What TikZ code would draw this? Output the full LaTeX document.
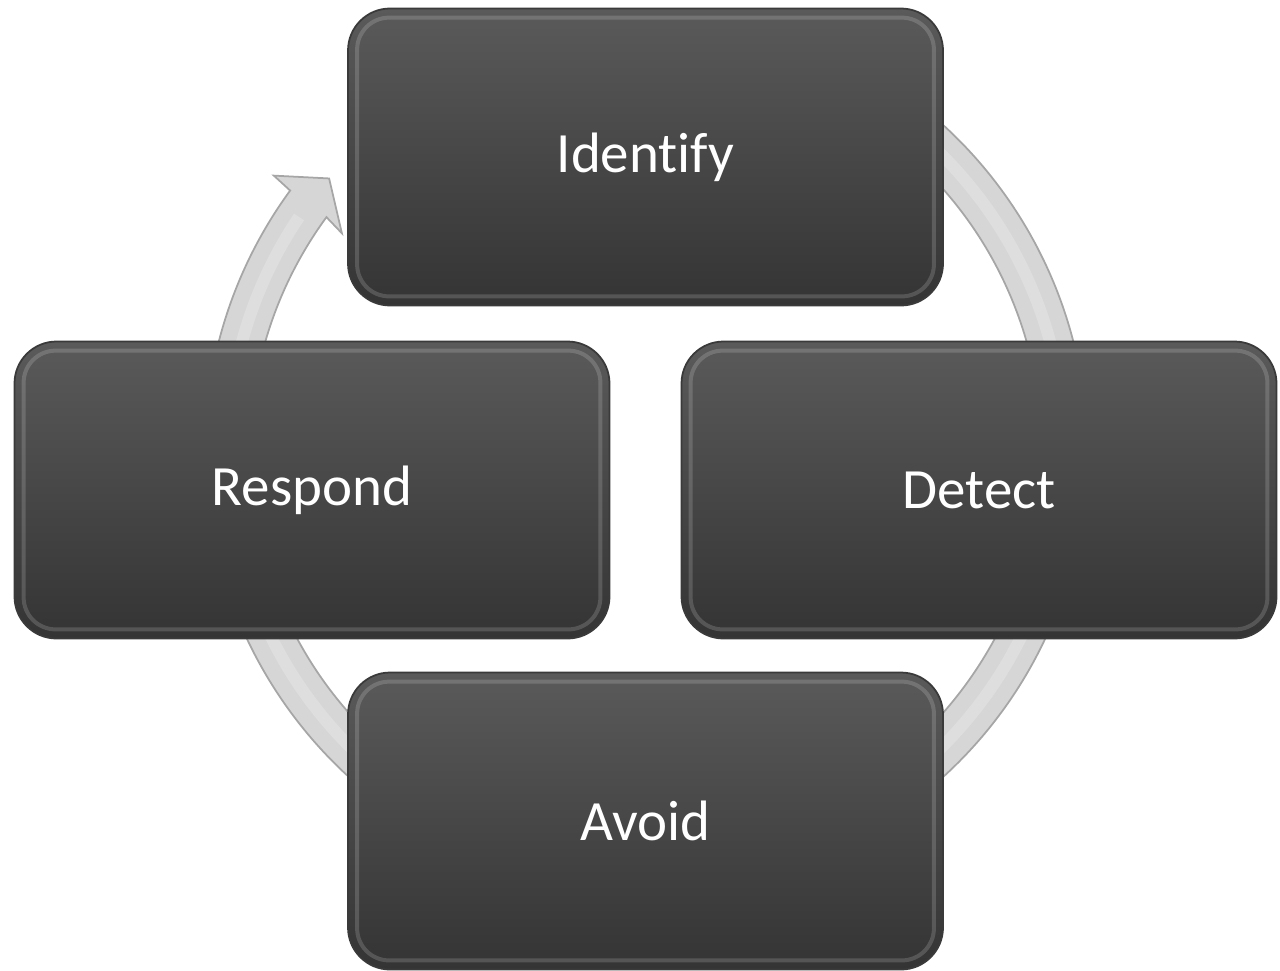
\documentclass[tikz,border=0pt]{standalone}
\usepackage{fontspec}
\setmainfont{Carlito}[RawFeature={-liga;-clig;-dlig}]
\usetikzlibrary{calc}
\definecolor{boxtop}{HTML}{5A5A5A}
\definecolor{boxbot}{HTML}{343434}
\definecolor{boxedge}{HTML}{3A3A3A}
\definecolor{ringfill}{HTML}{D6D6D6}
\definecolor{ringband}{HTML}{DEDEDE}
\definecolor{ringedge}{HTML}{A6A6A6}
\tikzset{
  stage/.style={rectangle, rounded corners=0.42cm, minimum width=5.95cm,
    minimum height=2.97cm, top color=boxtop, bottom color=boxbot,
    draw=boxedge, line width=0.5pt, text=white,
    font=\fontsize{16.2}{19}\selectfont},
  bevel/.style={rounded corners=0.32cm, draw=white, draw opacity=0.16,
    line width=0.04cm},
  ring/.style={fill=ringfill, draw=ringedge, line width=0.5pt}
}
\newcommand{\bevelbox}[1]{%
  \draw[bevel] ([shift={(0.1,-0.1)}]#1.north west) rectangle
               ([shift={(-0.1,0.1)}]#1.south east);}
\begin{document}
\begin{tikzpicture}
\useasboundingbox (0,0) rectangle (12.8,-9.7);
\coordinate (C) at (6.46,-4.51);

% circular arrow running clockwise behind the four stages
\begin{scope}[shift={(C)}]
  \path[ring] (80:4.41) arc[start angle=80, end angle=-216.2, radius=4.41]
     -- (143.5:4.63) -- (139.3:4.18) -- (144.4:3.74) -- (143.8:3.96)
     arc[start angle=-216.2, end angle=80, radius=3.96] -- cycle;
  \draw[ringband, line width=0.12cm] (80:4.185)
     arc[start angle=80, end angle=-214, radius=4.185];
\end{scope}

% stages
\node[stage] (identify) at (6.455,-1.57) {Identify};
\node[stage] (detect)   at (9.79,-4.90)  {Detect};
\node[stage] (respond)  at (3.12,-4.90)  {Respond};
\node[stage] (avoid)    at (6.455,-8.21) {Avoid};
\bevelbox{identify}
\bevelbox{detect}
\bevelbox{respond}
\bevelbox{avoid}
\end{tikzpicture}
\end{document}
